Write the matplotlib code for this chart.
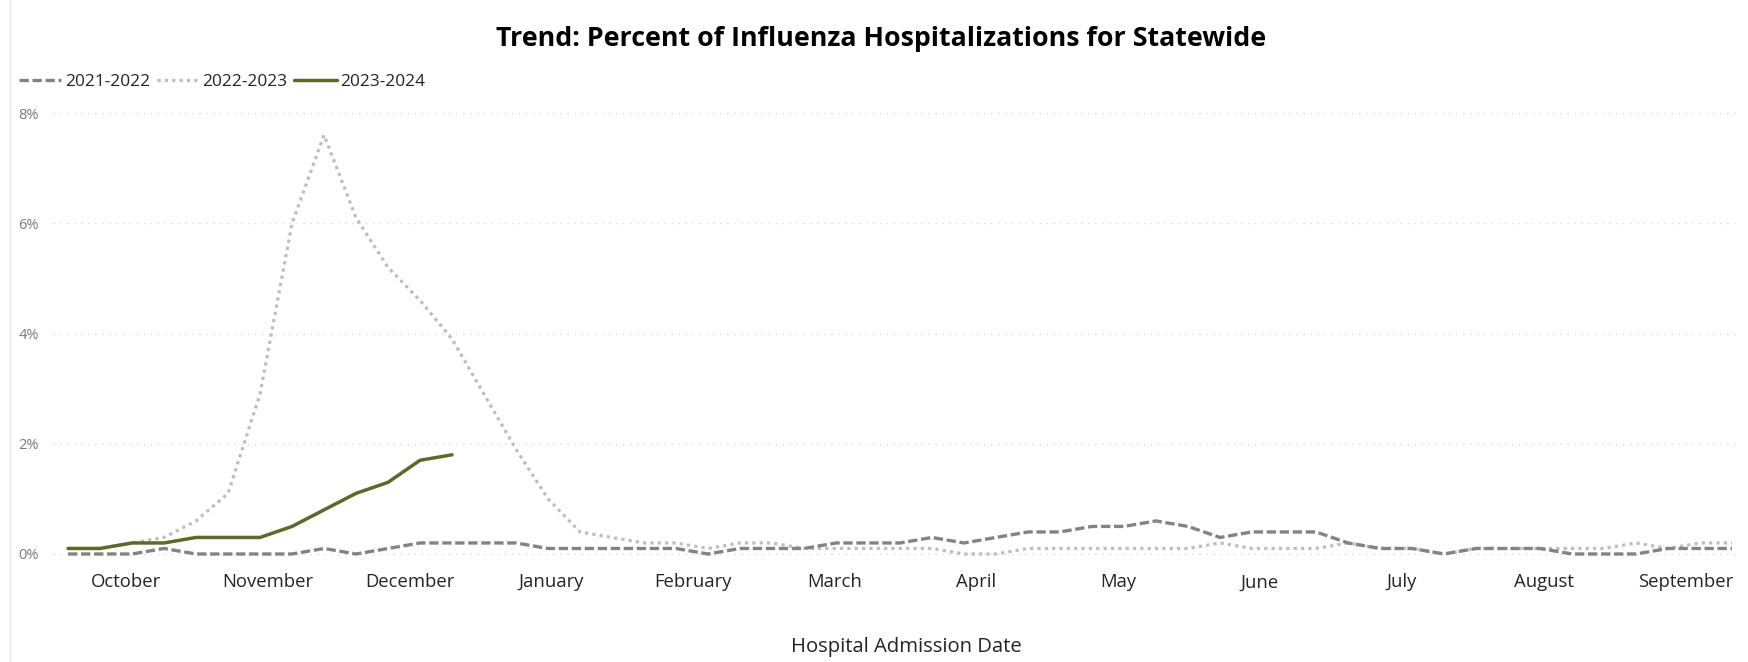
import matplotlib
matplotlib.use("Agg")
import matplotlib.pyplot as plt
from matplotlib.lines import Line2D
import numpy as np

plt.rcParams['font.family'] = ['Open Sans', 'DejaVu Sans']

# ---- data (percent, weekly from early October) ----
months = ["October", "November", "December", "January", "February", "March",
          "April", "May", "June", "July", "August", "September"]

s2021_2022 = [0.0, 0.0, 0.0, 0.1, 0.0, 0.0, 0.0, 0.0, 0.1, 0.0, 0.1, 0.2, 0.2, 0.2,
              0.2, 0.1, 0.1, 0.1, 0.1, 0.1, 0.0, 0.1, 0.1, 0.1, 0.2, 0.2, 0.2, 0.3,
              0.2, 0.3, 0.4, 0.4, 0.5, 0.5, 0.6, 0.5, 0.3, 0.4, 0.4, 0.4, 0.2, 0.1,
              0.1, 0.0, 0.1, 0.1, 0.1, 0.0, 0.0, 0.0, 0.1, 0.1, 0.1]

s2022_2023 = [0.1, 0.1, 0.2, 0.3, 0.6, 1.1, 2.9, 6.0, 7.6, 6.1, 5.2, 4.6, 3.9, 2.9,
              1.9, 1.0, 0.4, 0.3, 0.2, 0.2, 0.1, 0.2, 0.2, 0.1, 0.1, 0.1, 0.1, 0.1,
              0.0, 0.0, 0.1, 0.1, 0.1, 0.1, 0.1, 0.1, 0.2, 0.1, 0.1, 0.1, 0.2, 0.1,
              0.1, 0.0, 0.1, 0.1, 0.1, 0.1, 0.1, 0.2, 0.1, 0.2, 0.2]

s2023_2024 = [0.1, 0.1, 0.2, 0.2, 0.3, 0.3, 0.3, 0.5, 0.8, 1.1, 1.3, 1.7, 1.8]

series_labels = ["2021-2022", "2022-2023", "2023-2024"]
yticks = [0, 2, 4, 6, 8]

# ---- figure ----
W, H = 1748, 662
fig = plt.figure(figsize=(W / 100, H / 100), dpi=100)
fig.patch.set_facecolor("white")

ax_left, ax_right = 53, 1740
ax_top, ax_bottom = 102, 559.5
ax = fig.add_axes([ax_left / W, (H - ax_bottom) / H,
                   (ax_right - ax_left) / W, (ax_bottom - ax_top) / H])

x1 = np.arange(len(s2021_2022))
x2 = np.arange(len(s2022_2023))
x3 = np.arange(len(s2023_2024))

l1, = ax.plot(x1, s2021_2022, color="#838383", lw=2.4, linestyle=(0, (2.8, 1.1)),
              dash_capstyle="butt", label=series_labels[0], zorder=3)
l2, = ax.plot(x2, s2022_2023, color="#bdbdbd", lw=2.3, linestyle=(0, (1.0, 1.3)),
              label=series_labels[1], zorder=2)
l3, = ax.plot(x3, s2023_2024, color="#5b6a2b", lw=2.5, solid_capstyle="round",
              solid_joinstyle="round", label=series_labels[2], zorder=4)

ax.set_xlim(-0.47, 52.25)
ax.set_ylim(-0.1, 8.2)

ax.set_yticks(yticks)
ax.set_yticklabels([f"{v}%" for v in yticks])
ax.tick_params(axis="y", length=0, pad=10, labelsize=10.5, labelcolor="#7a7a7a")

first_center, step = 1.81, 4.43
ax.set_xticks([first_center + i * step for i in range(len(months))])
ax.set_xticklabels(months)
ax.tick_params(axis="x", length=0, pad=10, labelsize=13.3, labelcolor="#252423")

ax.grid(axis="y", color="#d9d9d9", linestyle=(0, (1, 4)), lw=1.0)
ax.grid(axis="x", visible=False)
for sp in ax.spines.values():
    sp.set_visible(False)

fig.text(906 / W, 1 - 647 / H, "Hospital Admission Date", ha="center", va="center",
         fontsize=14.6, color="#252423")

fig.text(881 / W, 1 - 39 / H, "Trend: Percent of Influenza Hospitalizations for Statewide",
         ha="center", va="center", fontsize=19.3, fontweight="bold", color="#000000")

fig.legend(handles=[l1, l2, l3], labels=series_labels, loc="center left",
           bbox_to_anchor=(3.5 / W, 1 - 82 / H), ncol=3, frameon=False,
           fontsize=12.4, handlelength=2.45, handletextpad=0.2, columnspacing=0.4,
           labelcolor="#252423")

fig.add_artist(Line2D([10 / W, 10 / W], [0, 1], color="#e8e8e8", lw=1.0))

fig.savefig("out.png", dpi=100, facecolor="white")
